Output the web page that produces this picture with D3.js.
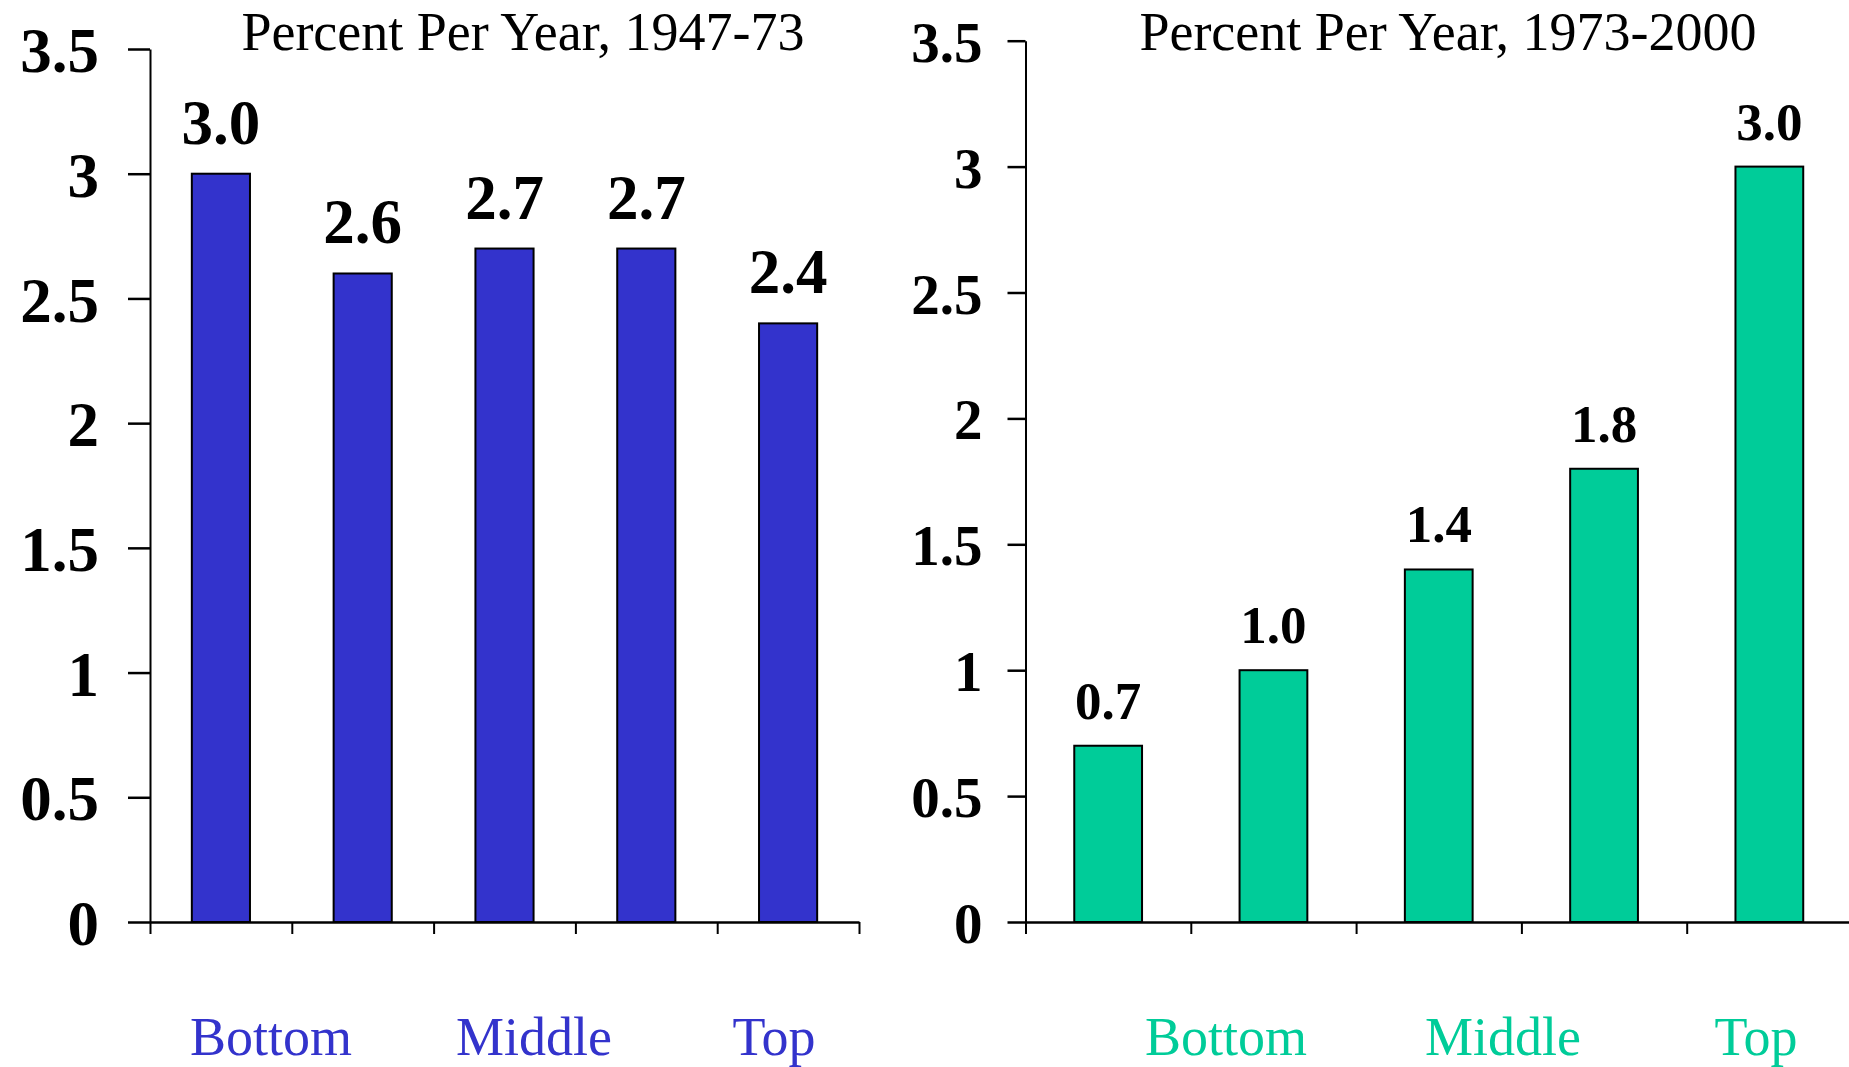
<!DOCTYPE html>
<html>
<head>
<meta charset="utf-8">
<script src="https://cdn.jsdelivr.net/npm/d3@7"></script>
<style>
  body { margin: 0; background: #fff; }
  svg { display: block; font-family: "Liberation Serif", "Times New Roman", serif; }
</style>
</head>
<body>
<svg id="vis" width="1849" height="1067"></svg>
<script>
// data
var quintiles = ["Q1", "Q2", "Q3", "Q4", "Q5"]
var growth1947 = [3.0, 2.6, 2.7, 2.7, 2.4]
var growth1973 = [0.7, 1.0, 1.4, 1.8, 3.0]
var groupLabels = ["Bottom", "Middle", "Top"]
var yTicks = [0, 0.5, 1, 1.5, 2, 2.5, 3, 3.5]
var titles = ["Percent Per Year, 1947-73", "Percent Per Year, 1973-2000"]

var svg = d3.select("#vis")

var panels = [
  {
    values: growth1947, title: titles[0], color: "#3333CC",
    left: 150, right: 859, top: 49, bottom: 922,
    tickFont: 63, tickLen: 22, tickPad: 29, valueFont: 63, valueGap: 30,
    titleX: 523, titleY: 50, titleFont: 54,
    labelX: [271, 534, 774]
  },
  {
    values: growth1973, title: titles[1], color: "#00CC99",
    left: 1025.5, right: 1852, top: 40.7, bottom: 922,
    tickFont: 57, tickLen: 18, tickPad: 25, valueFont: 53, valueGap: 27,
    titleX: 1448, titleY: 50, titleFont: 54,
    labelX: [1226, 1503, 1756]
  }
]

panels.forEach(function (p) {
  var g = svg.append("g")

  var xScale = d3.scaleBand()
        .domain(quintiles)
        .range([p.left, p.right])
        .paddingInner(0.59)
        .paddingOuter(0.295)

  var yScale = d3.scaleLinear()
        .domain([0, 3.5])
        .range([p.bottom, p.top])

  var edgeScale = d3.scaleLinear()
        .domain([0, quintiles.length])
        .range([p.left, p.right])

  // bars
  g.append("g")
    .selectAll("rect")
    .data(p.values)
    .enter()
    .append("rect")
    .attr("x", (d, i) => xScale(quintiles[i]))
    .attr("y", d => yScale(d))
    .attr("width", xScale.bandwidth())
    .attr("height", d => yScale(0) - yScale(d))
    .attr("fill", p.color)
    .attr("stroke", "#000")
    .attr("stroke-width", 2)

  // value labels
  g.append("g")
    .selectAll("text")
    .data(p.values)
    .enter()
    .append("text")
    .attr("x", (d, i) => xScale(quintiles[i]) + xScale.bandwidth() / 2)
    .attr("y", d => yScale(d) - p.valueGap)
    .attr("text-anchor", "middle")
    .attr("font-size", p.valueFont)
    .attr("font-weight", "bold")
    .text(d => d.toFixed(1))

  // x axis, ticks on the band edges
  var xAxisGen = d3.axisBottom(edgeScale)
        .tickValues(d3.range(quintiles.length + 1))
        .tickSize(12)
        .tickSizeOuter(0)
        .tickFormat("")
  var xAxis = g.append("g")
        .attr("transform", `translate(0,${p.bottom})`)
        .call(xAxisGen)
  xAxis.select(".domain").attr("stroke-width", 2.5)
  xAxis.selectAll(".tick line").attr("stroke-width", 2)

  // y axis
  var yAxisGen = d3.axisLeft(yScale)
        .tickValues(yTicks)
        .tickSize(p.tickLen)
        .tickSizeOuter(0)
        .tickPadding(p.tickPad)
        .tickFormat(d3.format(""))
  var yAxis = g.append("g")
        .attr("transform", `translate(${p.left},0)`)
        .call(yAxisGen)
  yAxis.select(".domain").attr("stroke-width", 2)
  yAxis.selectAll(".tick line").attr("stroke-width", 2.5)
  yAxis.selectAll(".tick text")
    .attr("font-family", "Liberation Serif")
    .attr("font-size", p.tickFont)
    .attr("font-weight", "bold")
    .attr("fill", "#000")
    .attr("dy", "0.36em")

  // title
  g.append("text")
    .attr("x", p.titleX)
    .attr("y", p.titleY)
    .attr("text-anchor", "middle")
    .attr("font-size", p.titleFont)
    .text(p.title)

  // group labels under the axis
  g.append("g")
    .selectAll("text")
    .data(groupLabels)
    .enter()
    .append("text")
    .attr("x", (d, i) => p.labelX[i])
    .attr("y", 1055)
    .attr("text-anchor", "middle")
    .attr("font-size", 54)
    .attr("fill", p.color)
    .text(d => d)
})
</script>
</body>
</html>
